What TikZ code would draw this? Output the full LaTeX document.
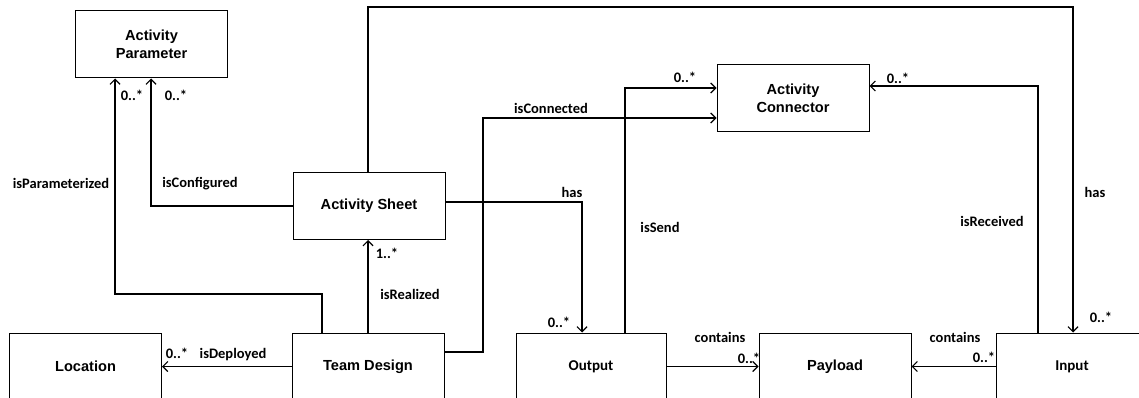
\documentclass[tikz,border=0pt]{standalone}
\usepackage{fontspec}
\setmainfont{Liberation Sans}
\newfontfamily\lblfont{Carlito}
\usetikzlibrary{arrows.meta}
\tikzset{
    cls/.style={draw,line width=1pt,minimum width=152pt,minimum height=67pt,
        align=center,font=\fontsize{14.6}{18}\selectfont\bfseries},
    clsc/.style={cls,font=\lblfont\fontsize{15}{18}\selectfont\bfseries},
    assoc/.style={line width=1.2pt,-{Straight Barb[length=5pt,width=10pt]}},
    lbl/.style={font=\lblfont\fontsize{14.5}{17}\selectfont\bfseries,inner sep=0pt},
    mult/.style={lbl,font=\lblfont\fontsize{14.5}{16}\selectfont\bfseries},
}
\begin{document}
\begin{tikzpicture}[x=1pt,y=-1pt]
    \useasboundingbox (0,0) rectangle (1139,398);
    \node[cls] (param) at (151.5,44.5) {Activity\\Parameter};
    \node[cls] (sheet) at (369,206) {Activity Sheet};
    \node[cls] (conn) at (793,98.5) {Activity\\Connector};
    \node[cls] (location) at (85.5,366.5) {Location};
    \node[cls] (team) at (368,366.5) {Team Design};
    \node[clsc,minimum width=150pt] (output) at (591,366.5) {Output};
    \node[cls] (payload) at (835,366.5) {Payload};
    \node[clsc] (input) at (1072,366.5) {Input};
    \draw[assoc] (team.north -| 322,0) |- (115,294) -- (param.south -| 115,0);
    \draw[assoc] (sheet.west) -| (param.south -| 151,0);
    \draw[assoc] (team.north) -- (team.north |- sheet.south);
    \draw[assoc] (team.west) -- (location.east);
    \draw[assoc] (team.east |- 0,352) -| (483,118) -- (conn.west |- 0,118);
    \draw[assoc] (sheet.east |- 0,202) -| (output.north -| 582,0);
    \draw[assoc] (output.north -| 625,0) |- (conn.west |- 0,88);
    \draw[assoc] (input.north -| 1038,0) |- (conn.east |- 0,86);
    \draw[assoc] (sheet.north -| 368,0) |- (1073,7) -- (input.north -| 1073,0);
    \draw[assoc] (output.east) -- (payload.west);
    \draw[assoc] (input.west) -- (payload.east);
    \node[lbl] (lpar) at (61,183) {isParameterized};
    \node[lbl] (lcfg) at (200,184) {isConfigured};
    \node[lbl] (lrea) at (410,294) {isRealized};
    \node[lbl] (ldep) at (233,355) {isDeployed};
    \node[lbl] (lcon) at (551,108) {isConnected};
    \node[lbl] (lhas) at (572,192) {has};
    \node[lbl] (lsnd) at (660,227) {isSend};
    \node[lbl] (lrcv) at (992,221) {isReceived};
    \node[lbl] (lhat) at (1095,192) {has};
    \node[lbl] (lco1) at (720,337) {contains};
    \node[lbl] (lco2) at (955,337) {contains};
    \foreach \x/\y in {132/95,176/95,177/353,559/322,685/77,898/78,1101/317,749/358,984/357}{
        \node[mult] at (\x,\y) {0..*};
    }
    \node[mult] (mrea) at (387,253) {1..*};
\end{tikzpicture}
\end{document}
